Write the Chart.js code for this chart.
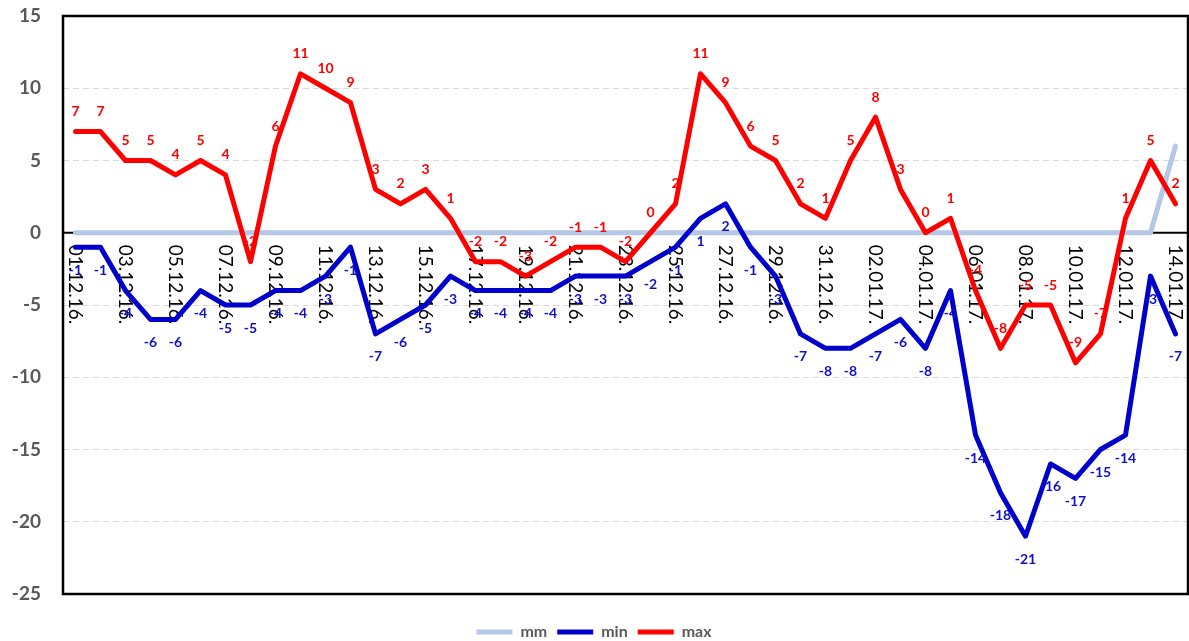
<!DOCTYPE html>
<html>
<head>
<meta charset="utf-8">
<script src="https://cdn.jsdelivr.net/npm/chart.js@4"></script>
<style>
  html, body { margin: 0; padding: 0; background: #fff; }
  #wrap { width: 1189px; height: 641px; position: relative; }
</style>
</head>
<body>
<div id="wrap"><canvas id="chart"></canvas></div>
<script>
// daily values, 01.12.16 - 14.01.17
const days = [
  "01.12.16.", "02.12.16.", "03.12.16.", "04.12.16.", "05.12.16.", "06.12.16.", "07.12.16.", "08.12.16.",
  "09.12.16.", "10.12.16.", "11.12.16.", "12.12.16.", "13.12.16.", "14.12.16.", "15.12.16.", "16.12.16.",
  "17.12.16.", "18.12.16.", "19.12.16.", "20.12.16.", "21.12.16.", "22.12.16.", "23.12.16.", "24.12.16.",
  "25.12.16.", "26.12.16.", "27.12.16.", "28.12.16.", "29.12.16.", "30.12.16.", "31.12.16.", "01.01.17.",
  "02.01.17.", "03.01.17.", "04.01.17.", "05.01.17.", "06.01.17.", "07.01.17.", "08.01.17.", "09.01.17.",
  "10.01.17.", "11.01.17.", "12.01.17.", "13.01.17.", "14.01.17."
];
const mmValues = [
  0, 0, 0, 0, 0, 0, 0, 0, 0, 0, 0, 0, 0, 0, 0, 0, 0, 0, 0, 0, 0, 0, 0,
  0, 0, 0, 0, 0, 0, 0, 0, 0, 0, 0, 0, 0, 0, 0, 0, 0, 0, 0, 0, 0, 6
];
const minValues = [
  -1, -1, -4, -6, -6, -4, -5, -5, -4, -4, -3, -1, -7, -6, -5, -3, -4, -4, -4, -4, -3, -3, -3,
  -2, -1, 1, 2, -1, -3, -7, -8, -8, -7, -6, -8, -4, -14, -18, -21, -16, -17, -15, -14, -3, -7
];
const maxValues = [
  7, 7, 5, 5, 4, 5, 4, -2, 6, 11, 10, 9, 3, 2, 3, 1, -2, -2, -3, -2, -1, -1, -2,
  0, 2, 11, 9, 6, 5, 2, 1, 5, 8, 3, 0, 1, -4, -8, -5, -5, -9, -7, 1, 5, 2
];
const yMin = -25, yMax = 15, yStep = 5;

const GRAY = "#595959";

// zero axis line, plot frame and the vertical date labels
const frame = {
  id: "frame",
  beforeDatasetsDraw(chart) {
    const { ctx, chartArea: a, scales: { x, y } } = chart;
    const y0 = y.getPixelForValue(0);
    ctx.save();
    ctx.strokeStyle = "#000";
    ctx.lineWidth = 2;
    ctx.beginPath();
    ctx.moveTo(a.left, y0);
    ctx.lineTo(a.right, y0);
    ctx.stroke();

    ctx.font = "19px Lato";
    ctx.fillStyle = "#000";
    ctx.textAlign = "left";
    ctx.textBaseline = "middle";
    days.forEach((d, i) => {
      if (i % 2) return;
      ctx.save();
      ctx.translate(x.getPixelForValue(i), y0 + 12);
      ctx.rotate(Math.PI / 2);
      ctx.fillText(d, 0, 0);
      ctx.restore();
    });
    ctx.restore();
  },
  afterDatasetsDraw(chart) {
    const { ctx, chartArea: a } = chart;
    ctx.save();
    ctx.strokeStyle = "#000";
    ctx.lineWidth = 2.5;
    ctx.strokeRect(a.left, a.top, a.right - a.left, a.bottom - a.top);
    ctx.restore();
  }
};

// value labels above max / below min
const valueLabels = {
  id: "valueLabels",
  afterDatasetsDraw(chart) {
    const ctx = chart.ctx;
    ctx.save();
    ctx.font = "bold 14px Lato";
    ctx.textAlign = "center";
    ctx.textBaseline = "middle";
    chart.data.datasets.forEach((ds, di) => {
      if (!ds.labelOffset) return;
      ctx.fillStyle = ds.labelColor;
      chart.getDatasetMeta(di).data.forEach((pt, i) => {
        ctx.fillText(String(ds.data[i]), pt.x, pt.y + ds.labelOffset);
      });
    });
    ctx.restore();
  }
};

new Chart(document.getElementById("chart"), {
  type: "line",
  data: {
    labels: days,
    datasets: [
      {
        label: "mm",
        data: mmValues,
        borderColor: "#b4c7e7",
        backgroundColor: "#b4c7e7",
        borderWidth: 5,
        order: 3
      },
      {
        label: "min",
        data: minValues,
        borderColor: "#0000cc",
        backgroundColor: "#0000cc",
        borderWidth: 5,
        order: 2,
        labelOffset: 23,
        labelColor: "#1010cc"
      },
      {
        label: "max",
        data: maxValues,
        borderColor: "#ff0000",
        backgroundColor: "#ff0000",
        borderWidth: 5,
        order: 1,
        labelOffset: -20,
        labelColor: "#ff0000"
      }
    ]
  },
  options: {
    responsive: true,
    maintainAspectRatio: false,
    animation: false,
    layout: { padding: { top: 16, right: 1, left: 0, bottom: -9 } },
    elements: {
      line: { tension: 0, borderCapStyle: "round", borderJoinStyle: "round", fill: false },
      point: { radius: 0, hoverRadius: 0 }
    },
    scales: {
      x: {
        type: "category",
        offset: true,
        ticks: { display: false },
        grid: { display: false },
        border: { display: false },
        afterFit(s) { s.height = 20; }
      },
      y: {
        min: yMin,
        max: yMax,
        ticks: {
          stepSize: yStep,
          padding: 22,
          color: GRAY,
          font: { family: "Lato", weight: "bold", size: 19 }
        },
        grid: { color: "#d9d9d9", lineWidth: 1, drawTicks: false },
        border: { display: false, dash: [6, 4] },
        afterFit(s) {
          s.width = 63;
          s.paddingTop = 0;
          s.paddingBottom = 0;
        }
      }
    },
    plugins: {
      legend: {
        position: "bottom",
        labels: {
          usePointStyle: true,
          pointStyle: "line",
          pointStyleWidth: 36,
          padding: 10,
          color: GRAY,
          font: { family: "Lato", weight: "bold", size: 16 },
          sort: (a, b) => a.datasetIndex - b.datasetIndex
        }
      },
      tooltip: { enabled: false }
    }
  },
  plugins: [frame, valueLabels]
});
</script>
</body>
</html>
